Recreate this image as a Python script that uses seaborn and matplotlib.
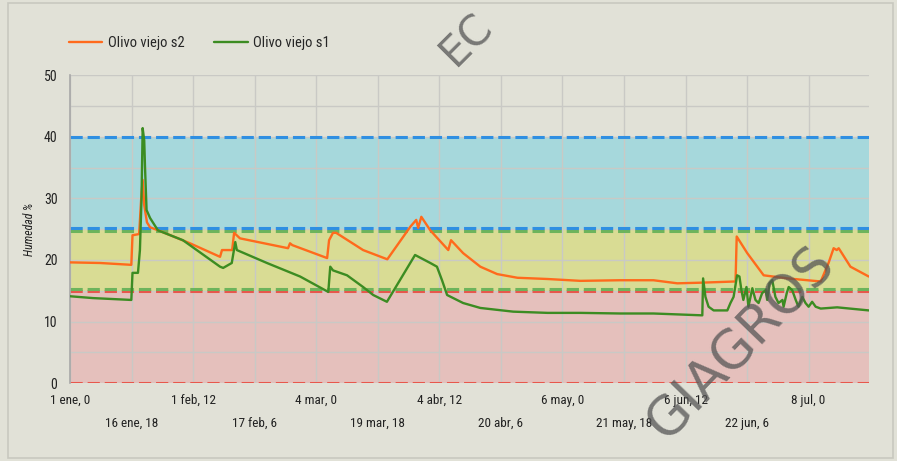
import pandas as pd
import seaborn as sns
import matplotlib.pyplot as plt
from matplotlib import font_manager
from matplotlib.patches import Rectangle
from matplotlib.ticker import FixedLocator

# Humidity sensors, days counted from 1 ene (hours as fraction of day)
dias_s2 = [0, 7.7, 15.7, 16.0, 17.7, 18.2, 18.6, 19.0, 19.7, 20.5, 23.0, 30.7, 38.4, 38.9,
           41.5, 42.0, 43.5, 55.8, 56.3, 56.9, 65.8, 66.3, 67.3, 68.1, 75.0, 81.2, 87.1,
           88.6, 89.1, 89.9, 92.2, 96.8, 97.5, 100.6, 105.0, 109.3, 114.5, 122.2, 130.6,
           140.8, 149.3, 155.4, 161.3, 170.3, 170.6, 173.3, 177.5, 183.6, 192.1, 194.1,
           195.4, 196.2, 196.7, 199.7, 204.4]
humedad_s2 = [19.6, 19.5, 19.2, 24.0, 24.2, 29.7, 33.0, 28.9, 26.1, 25.3, 24.7, 22.7, 20.5, 21.6,
              21.6, 24.4, 23.5, 21.9, 22.7, 22.4, 20.3, 23.2, 24.4, 24.4, 21.6, 20.1, 25.4,
              26.5, 25.2, 27.0, 24.8, 21.6, 23.2, 21.1, 18.9, 17.7, 17.1, 16.9, 16.6,
              16.7, 16.7, 16.2, 16.3, 16.5, 23.8, 21.1, 17.5, 17.0, 16.5, 19.5,
              21.9, 21.6, 21.9, 18.9, 17.3]

dias_s1 = [0, 5.9, 15.7, 16.0, 17.4, 17.9, 18.3, 18.6, 19.0, 19.2, 19.6, 20.5, 22.5, 28.9,
           38.4, 39.2, 41.4, 42.3, 42.7, 50.4, 58.9, 66.1, 66.6, 67.3, 70.9, 75.0, 77.6,
           81.1, 88.3, 92.2, 93.9, 95.2, 96.5, 100.6, 105.0, 113.4, 122.2, 130.6, 140.8,
           149.3, 161.8, 162.0, 162.6, 163.4, 164.7, 168.2, 169.0, 169.8, 170.7, 171.3,
           171.8, 172.3, 173.1, 173.6, 174.6, 175.4, 176.2, 177.1, 178.0, 178.4, 179.0,
           179.7, 180.5, 181.3, 182.3, 182.6, 183.4, 183.9, 184.8, 185.7, 186.4, 187.4,
           188.2, 189.0, 189.9, 190.8, 192.1, 196.3, 204.4]
humedad_s1 = [14.1, 13.8, 13.5, 17.9, 17.9, 21.6, 29.7, 41.4, 39.4, 35.1, 28.1, 26.8, 24.8, 23.2,
              18.9, 18.7, 19.5, 22.9, 21.6, 19.5, 17.3, 14.8, 18.9, 18.3, 17.5, 15.6, 14.3,
              13.2, 20.8, 19.5, 18.9, 16.7, 14.3, 13.0, 12.2, 11.6, 11.4, 11.4, 11.3,
              11.3, 11.0, 17.0, 14.0, 12.4, 11.8, 11.8, 13.0, 14.0, 17.5, 17.3,
              15.1, 13.5, 15.6, 12.4, 15.4, 13.5, 13.0, 14.6, 15.1, 13.5, 16.2,
              16.7, 14.0, 13.0, 13.5, 12.4, 14.6, 15.6, 15.1, 13.5, 12.4, 14.0,
              13.0, 12.4, 13.2, 12.4, 12.1, 12.3, 11.8]

# threshold bands (lower, upper, fill, border)
bandas = [(0, 15, "#e5c0bc", "#e8574c"),
          (15, 25, "#d9dc94", "#6db45c"),
          (25, 40, "#a6d8dc", "#2f8fe2")]

tick_dias = [0, 15.75, 31.5, 47.25, 63, 78.75, 94.5, 110.25, 126, 141.75, 157.5, 173.25, 189]
tick_labels = ["1 ene, 0", "16 ene, 18", "1 feb, 12", "17 feb, 6", "4 mar, 0", "19 mar, 18",
               "4 abr, 12", "20 abr, 6", "6 may, 0", "21 may, 18", "6 jun, 12", "22 jun, 6",
               "8 jul, 0"]

df = pd.concat([
    pd.DataFrame({"dia": dias_s2, "humedad": humedad_s2, "serie": "Olivo viejo s2"}),
    pd.DataFrame({"dia": dias_s1, "humedad": humedad_s1, "serie": "Olivo viejo s1"}),
])

sns.set_style("white")
installed = {f.name for f in font_manager.fontManager.ttflist}
fam = [f for f in ["Liberation Sans Narrow", "Roboto Condensed", "Liberation Sans"] if f in installed]
plt.rcParams["font.family"] = fam + ["DejaVu Sans"]

bg = "#e1e1d7"
fig = plt.figure(figsize=(8.97, 4.61), dpi=100, facecolor=bg)
ax = fig.add_axes([0.078, 0.169, 0.891, 0.668])
ax.set_facecolor(bg)

for lo, hi, fill, edge in bandas:
    ax.axhspan(lo, hi, color=fill, lw=0, zorder=0)
for lo, hi, fill, edge in bandas:
    off = 0.25 if lo > 0 else 0
    ax.axhline(lo + off, color=edge, lw=2.2, ls=(0, (4, 1.6)), zorder=1.5)
    ax.axhline(hi - 0.25 if hi == 25 else hi, color=edge, lw=2.2, ls=(0, (4, 1.6)), zorder=1.5)

ax.set_ylim(0, 50)
ax.set_xlim(0, 204.5)
ax.set_yticks(range(0, 51, 10))
ax.yaxis.set_minor_locator(FixedLocator(range(5, 50, 10)))
ax.set_xticks(tick_dias)
ax.set_xticklabels([("\n" + l) if i % 2 else l for i, l in enumerate(tick_labels)],
                   linespacing=2.0)
ax.grid(True, which="both", color="#c9c9c5", lw=1, zorder=1)
ax.xaxis.grid(True, which="minor", alpha=0)
ax.xaxis.set_minor_locator(FixedLocator([i * 1.575 for i in range(130)]))
ax.tick_params(axis="x", which="minor", length=3, color="#d08080", direction="out")
ax.tick_params(axis="x", which="major", length=0, pad=8, labelsize=9.5, labelcolor="#222222")
ax.tick_params(axis="y", length=0, pad=9, labelsize=10, labelcolor="#222222")
ax.set_axisbelow(True)

sns.lineplot(data=df, x="dia", y="humedad", hue="serie", estimator=None, sort=False,
             palette={"Olivo viejo s2": "#ff6a1c", "Olivo viejo s1": "#3c8c22"},
             lw=1.7, ax=ax, zorder=3)

for s in ["top", "right", "bottom"]:
    ax.spines[s].set_visible(False)
ax.spines["left"].set_color("#a8a8a8")
ax.spines["left"].set_linewidth(1.2)

ax.set_xlabel("")
ax.set_ylabel("Humedad %", fontsize=8.5, style="italic", color="#222222", labelpad=6)

h, l = ax.get_legend_handles_labels()
ax.legend(h, l, loc="lower left", bbox_to_anchor=(-0.018, 1.04), ncol=2, frameon=False,
          fontsize=10.5, handlelength=2.3, handletextpad=0.4, columnspacing=2.0)

# outer chart frame
fig.patches.append(Rectangle((8 / 897, 3 / 461), 885 / 897, 455 / 461, transform=fig.transFigure,
                             fill=False, ec="#c8c8bf", lw=1.2))

# watermark
fig.text(0.52, 0.915, "EC", rotation=45, fontsize=30, color="#555555", alpha=0.75,
         ha="center", va="center", family="DejaVu Sans", zorder=10)
fig.text(0.825, 0.255, "GIAGROS", rotation=46, fontsize=38, color="#555555", alpha=0.75,
         ha="center", va="center", family="DejaVu Sans", zorder=10)

fig.savefig("out.png", dpi=100, facecolor=bg)
